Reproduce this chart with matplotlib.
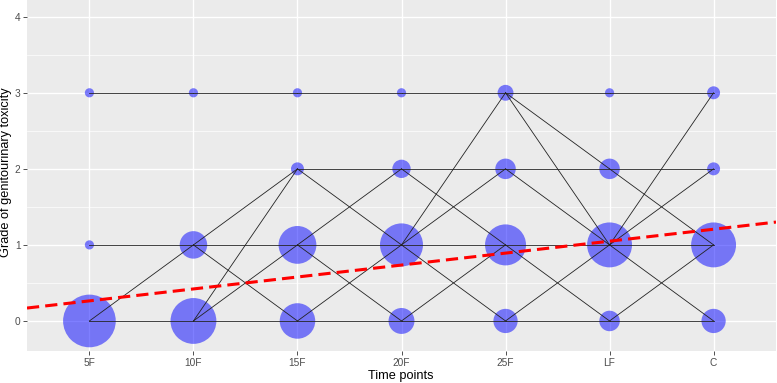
import numpy as np
import matplotlib
matplotlib.use("Agg")
import matplotlib.pyplot as plt

plt.rcParams["font.family"] = ["Liberation Sans", "DejaVu Sans"]

# time points and grades
timepoints = ["5F", "10F", "15F", "20F", "25F", "LF", "C"]
grades = [0, 1, 2, 3]

# number of patients at each grade per time point
counts_g0 = [33, 25, 15, 8, 7, 5, 7]
counts_g1 = [1, 9, 17, 22, 20, 24, 24]
counts_g2 = [0, 0, 2, 4, 5, 5, 2]
counts_g3 = [1, 1, 1, 1, 3, 1, 2]

# transitions between consecutive time points: (from index, from grade, to grade)
transitions = [
    (0, 0, 0), (0, 0, 1), (0, 1, 1), (0, 3, 3),
    (1, 0, 0), (1, 0, 1), (1, 0, 2), (1, 1, 2), (1, 1, 0), (1, 1, 1), (1, 3, 3),
    (2, 0, 0), (2, 0, 1), (2, 1, 0), (2, 1, 2), (2, 1, 1), (2, 2, 2), (2, 2, 1), (2, 3, 3),
    (3, 0, 0), (3, 0, 1), (3, 1, 0), (3, 1, 1), (3, 1, 2), (3, 1, 3), (3, 2, 1), (3, 2, 2), (3, 3, 3),
    (4, 0, 0), (4, 0, 1), (4, 1, 0), (4, 1, 1), (4, 2, 1), (4, 2, 2), (4, 3, 1), (4, 3, 2), (4, 3, 3),
    (5, 0, 0), (5, 0, 1), (5, 1, 0), (5, 1, 1), (5, 1, 2), (5, 1, 3), (5, 2, 1), (5, 2, 2), (5, 3, 3),
]

# linear trend
trend_intercept = 0.107
trend_slope = 0.157

fig = plt.figure(figsize=(7.77, 3.83), dpi=100)
ax = fig.add_axes([27 / 777, 32 / 383, 749 / 777, 351 / 383])
ax.set_facecolor("#EBEBEB")
for s in ax.spines.values():
    s.set_visible(False)

xs = np.arange(1, len(timepoints) + 1)
ax.set_xlim(0.4, 7.6)
ax.set_ylim(-0.395, 4.22)

# grid
for y in np.arange(-0.5, 4.5, 0.5):
    ax.axhline(y, color="white", lw=0.5 if y % 1 else 1.0, zorder=0)
for x in xs:
    ax.axvline(x, color="white", lw=1.0, zorder=0)

# transitions
for i, g0, g1 in transitions:
    ax.plot([xs[i], xs[i + 1]], [g0, g1], color="#222222", lw=0.6, zorder=3)

# bubbles, area proportional to count
counts = [counts_g0, counts_g1, counts_g2, counts_g3]
unit_area = (2 * 3.3) ** 2
for g, row in zip(grades, counts):
    row = np.array(row)
    m = row > 0
    ax.scatter(xs[m], np.full(m.sum(), g), s=row[m] * unit_area,
               color="blue", alpha=0.5, lw=0, zorder=2)

# trend line
tx = np.array([0.4, 7.6])
ax.plot(tx, trend_intercept + trend_slope * tx, color="red", lw=2.2,
        ls=(0, (4, 2)), zorder=4)

ax.set_xticks(xs)
ax.set_xticklabels(timepoints)
ax.set_yticks(grades + [4])
ax.tick_params(axis="both", colors="#333333", labelsize=7.3, length=2.75, width=0.6,
               labelcolor="#4D4D4D", pad=2)
fig.text(401 / 777, 1 - 379 / 383, "Time points", fontsize=9.2, ha="center", va="baseline")
fig.text(6 / 777, 1 - 172 / 383, "Grade of genitourinary toxicity", fontsize=9.2,
         rotation=90, ha="center", va="center")

fig.savefig("out.png", dpi=100)
